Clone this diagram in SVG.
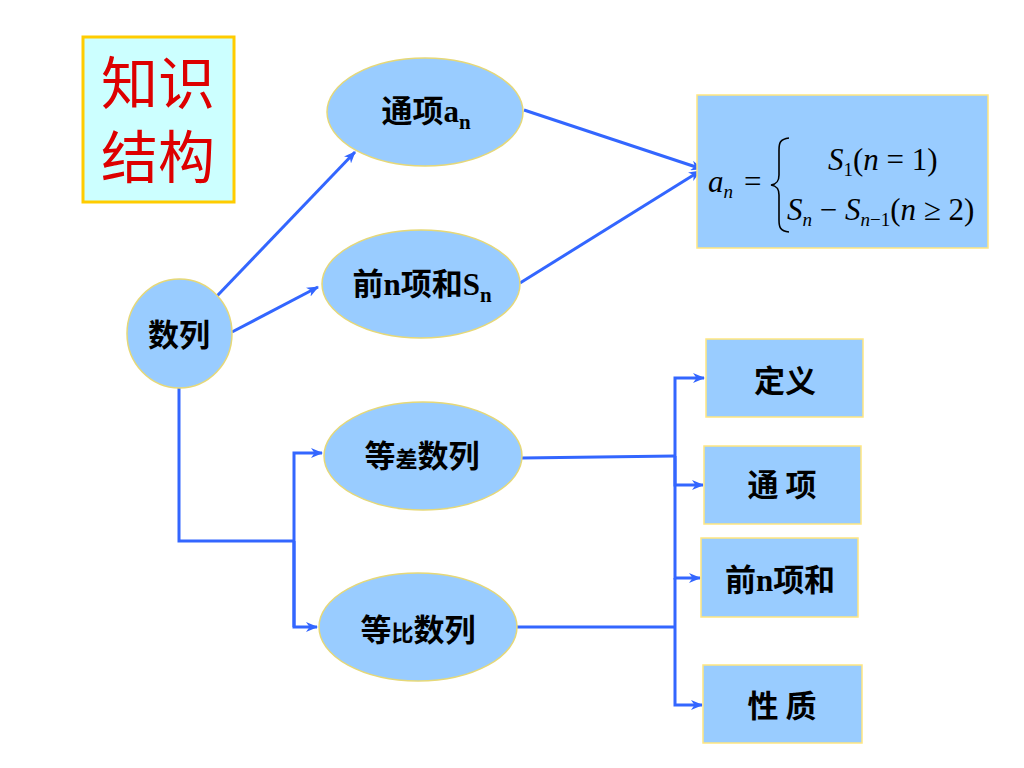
<svg xmlns="http://www.w3.org/2000/svg" width="1024" height="768" viewBox="0 0 1024 768">
<defs>
<marker id="arr" viewBox="0 0 12 10" refX="11" refY="5" markerWidth="12" markerHeight="10" markerUnits="userSpaceOnUse" orient="auto">
<path d="M0,0 L12,5 L0,10 L3.5,5 z" fill="#3366FF"/>
</marker>
</defs>
<style>
.ell{fill:#99CCFF;stroke:#E6D878;stroke-width:1.5}
.box{fill:#99CCFF;stroke:#FFE680;stroke-width:1.5}
.lbl{font-family:"Liberation Serif","Noto Sans CJK SC",serif;font-weight:bold;font-size:31px;fill:#000;text-anchor:middle}
.cjk{font-family:"Noto Sans CJK SC",sans-serif}
.con{fill:none;stroke:#3366FF;stroke-width:3}
.math{font-family:"Liberation Serif",serif;font-size:31px;fill:#000}
.it{font-style:italic}
</style>
<rect width="1024" height="768" fill="#FFFFFF"/>
<g id="title">
<rect x="83" y="37" width="151" height="165" fill="#CCFFFF" stroke="#FFCC00" stroke-width="3"/>
<text x="158" y="104" font-family="Noto Sans CJK SC,sans-serif" font-size="57" fill="#DD0000" text-anchor="middle">知识</text>
<text x="158" y="178" font-family="Noto Sans CJK SC,sans-serif" font-size="57" fill="#DD0000" text-anchor="middle">结构</text>
</g>
<g id="connectors">
<line class="con" x1="217" y1="296" x2="355" y2="152" marker-end="url(#arr)"/>
<line class="con" x1="232" y1="332" x2="318" y2="287" marker-end="url(#arr)"/>
<line class="con" x1="524" y1="110" x2="702" y2="169" marker-end="url(#arr)"/>
<line class="con" x1="520" y1="283" x2="700" y2="171" marker-end="url(#arr)"/>
<polyline class="con" points="179,388 179,541 294,541"/>
<polyline class="con" points="294,627 294,453 322,453" marker-end="url(#arr)"/>
<polyline class="con" points="294,541 294,627 317,627" marker-end="url(#arr)"/>
<polyline class="con" points="522,458 675,456"/>
<polyline class="con" points="517,627 675,627"/>
<polyline class="con" points="675,485 675,378 704,378" marker-end="url(#arr)"/>
<polyline class="con" points="675,456 675,485 703,485" marker-end="url(#arr)"/>
<polyline class="con" points="675,485 675,578 700,578" marker-end="url(#arr)"/>
<polyline class="con" points="675,578 675,705 702,705" marker-end="url(#arr)"/>
</g>
<g id="shulie">
<ellipse class="ell" cx="179.5" cy="333.5" rx="52.5" ry="54.5"/>
<text class="lbl cjk" x="179" y="346">数列</text>
</g>
<g id="tongxiang">
<ellipse class="ell" cx="425" cy="112" rx="98" ry="54"/>
<text class="lbl" x="426" y="122"><tspan class="cjk">通项</tspan>a<tspan font-size="21" dy="7">n</tspan></text>
</g>
<g id="qiannxianghe">
<ellipse class="ell" cx="421" cy="284" rx="99" ry="54"/>
<text class="lbl" x="422" y="295"><tspan class="cjk">前</tspan>n<tspan class="cjk">项和</tspan>S<tspan font-size="21" dy="7">n</tspan></text>
</g>
<g id="dengcha">
<ellipse class="ell" cx="423" cy="456" rx="99" ry="54"/>
<text class="lbl cjk" x="422" y="467">等<tspan font-size="22">差</tspan>数列</text>
</g>
<g id="dengbi">
<ellipse class="ell" cx="418" cy="627" rx="99" ry="54"/>
<text class="lbl cjk" x="418" y="641">等<tspan font-size="22">比</tspan>数列</text>
</g>
<g id="formula">
<rect class="box" x="697" y="95" width="291" height="153"/>
<text class="math it" x="708" y="192">a<tspan font-size="19" dy="6">n</tspan></text>
<text class="math" x="744" y="192">=</text>
<path d="M789,138 C780,139 779,143 779,150 L779,175 C779,181 777,184 771,185 C777,186 779,189 779,195 L779,220 C779,227 780,231 789,232" fill="none" stroke="#000" stroke-width="1.6"/>
<text class="math" x="828" y="170"><tspan class="it">S</tspan><tspan font-size="19" dy="6">1</tspan><tspan dy="-6">(</tspan><tspan class="it">n</tspan> = 1)</text>
<text class="math" x="787" y="220"><tspan class="it">S</tspan><tspan class="it" font-size="19" dy="6">n</tspan><tspan dy="-6"> − </tspan><tspan class="it">S</tspan><tspan class="it" font-size="19" dy="6">n</tspan><tspan font-size="19">−1</tspan><tspan dy="-6">(</tspan><tspan class="it">n</tspan> ≥ 2)</text>
</g>
<g id="dingyi">
<rect class="box" x="706" y="339" width="157" height="78"/>
<text class="lbl cjk" x="785" y="392">定义</text>
</g>
<g id="tongxiang2">
<rect class="box" x="704" y="446" width="157" height="78"/>
<text class="lbl cjk" x="782" y="496">通 项</text>
</g>
<g id="qiannxianghe2">
<rect class="box" x="701" y="538" width="157" height="79"/>
<text class="lbl" x="780" y="591"><tspan class="cjk">前</tspan>n<tspan class="cjk">项和</tspan></text>
</g>
<g id="xingzhi">
<rect class="box" x="703" y="665" width="159" height="78"/>
<text class="lbl cjk" x="782" y="717">性 质</text>
</g>
</svg>
